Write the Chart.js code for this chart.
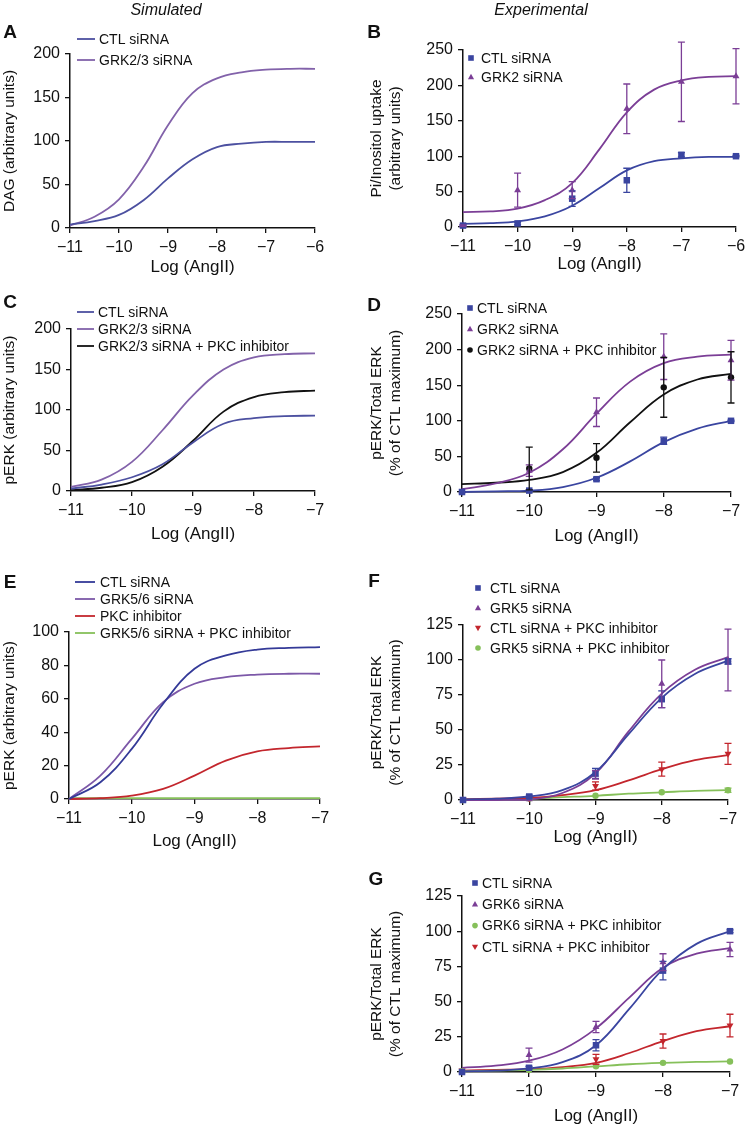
<!DOCTYPE html>
<html>
<head>
<meta charset="utf-8">
<script src="https://cdn.jsdelivr.net/npm/chart.js@4"></script>
<style>
  body { margin: 0; background: #fff; font-family: "Liberation Sans", Arial, sans-serif; }
  #fig { position: relative; width: 746px; height: 1128px; overflow: hidden; }
  canvas { position: absolute; }
  .lab { position: absolute; transform: translate(-50%, -50%); white-space: nowrap; color: #111; }
  .head { font-style: italic; font-size: 16px; }
  .letter { font-weight: bold; font-size: 19px; }
</style>
</head>
<body>
<div id="fig">
  <canvas id="cA"></canvas>
  <canvas id="cB"></canvas>
  <canvas id="cC"></canvas>
  <canvas id="cD"></canvas>
  <canvas id="cE"></canvas>
  <canvas id="cF"></canvas>
  <canvas id="cG"></canvas>
  <div class="lab head" style="left:166px;top:10px">Simulated</div>
  <div class="lab head" style="left:541px;top:10px">Experimental</div>
  <div class="lab letter" style="left:10px;top:32px">A</div>
  <div class="lab letter" style="left:374px;top:32px">B</div>
  <div class="lab letter" style="left:10px;top:302px">C</div>
  <div class="lab letter" style="left:374px;top:305px">D</div>
  <div class="lab letter" style="left:10px;top:582px">E</div>
  <div class="lab letter" style="left:374px;top:581px">F</div>
  <div class="lab letter" style="left:376px;top:879px">G</div>
</div>
<script>
// dose grid for the fitted / simulated curves (log AngII)
const fitDose6 = [-11, -10.5, -10, -9.5, -9, -8.5, -8, -7.5, -7, -6.5, -6];
const fitDose7 = [-11, -10.5, -10, -9.5, -9, -8.5, -8, -7.5, -7];
// measured doses
const dose6 = [-11, -10, -9, -8, -7, -6];
const dose7 = [-11, -10, -9, -8, -7];

// A - simulated DAG
const aCtl = [4, 8, 15, 32, 57, 79, 93, 97, 99, 99, 99];
const aGrk = [3, 13, 33, 70, 118, 155, 172, 179, 182, 183, 183];

// B - Pi/Inositol uptake
const bCtlMean = [2, 5, 40, 66, 102, 100];
const bCtlErr = [1, 2, 11, 17, 3, 1];
const bGrkMean = [2, 52, 52, 167, 205, 213];
const bGrkErr = [1, 24, 12, 35, 56, 39];
const bCtlFit = [4.5, 5.5, 8, 15, 30, 55, 80, 93, 97, 99, 99];
const bGrkFit = [21, 22, 26, 38, 62, 110, 162, 194, 207, 212, 213];

// C - simulated pERK
const cCtl = [3, 8, 17, 33, 60, 83, 90, 92.5, 93];
const cGrk = [5, 14, 36, 75, 118, 150, 165, 169, 170];
const cGrkPkc = [1, 4, 11, 30, 62, 98, 116, 122, 124];

// D - pERK/Total ERK, GRK2
const dCtlMean = [0, 2, 18, 72, 100];
const dCtlErr = [0.5, 1, 2, 5, 1];
const dGrkMean = [0, 30, 112, 190, 185];
const dGrkErr = [0.5, 8, 20, 32, 28];
const dPkcMean = [0, 33, 48, 147, 161];
const dPkcErr = [0, 30, 20, 42, 36];
const dCtlFit = [0, 1, 2, 7, 20, 43, 70, 89, 100];
const dGrkFit = [4, 12, 27, 60, 110, 155, 181, 190, 193];
const dPkcFit = [11, 13, 17, 28, 55, 98, 137, 158, 166];

// E - simulated pERK, GRK5/6
const eCtl = [0, 10, 30, 57, 78, 86, 89.5, 90.5, 91];
const eGrk = [0, 14, 36, 58, 69, 73, 74.5, 75, 75];
const ePkc = [0, 0.5, 2, 6, 14, 23, 28.5, 30.5, 31.5];
const eGrkPkc = [0.5, 0.5, 0.5, 0.5, 0.5, 0.5, 0.5, 0.5, 0.5];

// F - pERK/Total ERK, GRK5
const fCtlMean = [0, 2.5, 19, 72, 99];
const fCtlErr = [0.5, 1, 3.5, 6, 2];
const fGrkMean = [0, 0.5, 18, 83, 100];
const fGrkErr = [0.5, 0.5, 3, 17, 22];
const fCtlPkcMean = [0.5, 1, 10, 22, 33];
const fCtlPkcErr = [0.5, 0.5, 3, 5, 7.5];
const fGrkPkcMean = [0, 1, 3, 5.5, 7];
const fGrkPkcErr = [0.2, 0.3, 0.5, 0.8, 1.5];
const fCtlFit = [0.5, 1, 2.5, 7, 20, 47, 73, 90, 99.5];
const fGrkFit = [0, 0, 0.3, 5, 19, 49, 76, 93, 102];
const fCtlPkcFit = [0.5, 1, 1.5, 3.5, 7, 14, 22, 28.5, 32];
const fGrkPkcFit = [0.3, 0.6, 1, 2, 3, 4.5, 5.5, 6.5, 7];

// G - pERK/Total ERK, GRK6
const gCtlMean = [0, 3, 19, 72, 100];
const gCtlErr = [0.5, 1, 4, 6.5, 1];
const gGrkMean = [0, 12, 32, 78, 87];
const gGrkErr = [0.5, 5, 4, 6, 5];
const gGrkPkcMean = [0.5, 1.5, 4, 6.5, 7.5];
const gGrkPkcErr = [0.3, 0.3, 0.5, 0.5, 0.5];
const gCtlPkcMean = [1, 1.5, 9, 22, 33];
const gCtlPkcErr = [0.5, 0.5, 3.5, 5, 8];
const gCtlFit = [0.5, 1, 2.5, 7, 19, 45, 73, 91, 100];
const gGrkFit = [3, 4.5, 8, 16, 31, 53, 74, 84, 88];
const gGrkPkcFit = [0.5, 1, 1.5, 2.5, 4, 5.5, 6.5, 7.2, 7.5];
const gCtlPkcFit = [1, 1.5, 2, 3.5, 6.5, 13.5, 22, 29, 32.5];

const BLUE = "#3a45a0", PURPLE = "#7b3e96", RED = "#c3262d", GREEN = "#86c05a", BLACK = "#111";
const SIM_BLUE = "#4c50a0", SIM_PURPLE = "#8262aa";

Chart.defaults.font.family = '"Liberation Sans", Arial, sans-serif';
Chart.defaults.color = "#111";

const pts = (xs, ys) => xs.map((x, i) => ({ x: x, y: ys[i] }));

function curve(label, xs, ys, color) {
    return {
        label: label, data: pts(xs, ys),
        borderColor: color, backgroundColor: color, borderWidth: 1.8,
        pointRadius: 0, tension: 0.4, fill: false, clip: false
    };
}

function points(label, xs, ys, err, color, style, r, rot) {
    return {
        label: label, data: pts(xs, ys), errors: err, showLine: false,
        pointStyle: style, pointRadius: r, pointRotation: rot || 0,
        backgroundColor: color, borderColor: color, borderWidth: 0, clip: false
    };
}

// vertical error bars with caps
const errorBars = {
    id: "errorBars",
    afterDatasetsDraw(chart) {
        const ctx = chart.ctx, xs = chart.scales.x, ys = chart.scales.y;
        chart.data.datasets.forEach(ds => {
            if (!ds.errors) return;
            ctx.save();
            ctx.strokeStyle = ds.backgroundColor;
            ctx.lineWidth = 1.3;
            ds.data.forEach((p, i) => {
                const e = ds.errors[i];
                if (!e || e < 1) return;
                const px = xs.getPixelForValue(p.x);
                const t = ys.getPixelForValue(p.y + e);
                const b = ys.getPixelForValue(Math.max(p.y - e, 0));
                ctx.beginPath();
                ctx.moveTo(px, t); ctx.lineTo(px, b);
                ctx.moveTo(px - 3.5, t); ctx.lineTo(px + 3.5, t);
                ctx.moveTo(px - 3.5, b); ctx.lineTo(px + 3.5, b);
                ctx.stroke();
            });
            ctx.restore();
        });
    }
};

function marker(ctx, style, rot, x, y, r, color) {
    ctx.fillStyle = color;
    ctx.beginPath();
    if (style === "rect") {
        ctx.rect(x - r, y - r, 2 * r, 2 * r);
    } else if (style === "circle") {
        ctx.arc(x, y, r, 0, Math.PI * 2);
    } else {
        const d = rot ? -1 : 1;
        ctx.moveTo(x, y - d * r * 1.15);
        ctx.lineTo(x + r * 1.1, y + d * r * 0.8);
        ctx.lineTo(x - r * 1.1, y + d * r * 0.8);
        ctx.closePath();
    }
    ctx.fill();
}

// legend drawn inside the canvas at given spots
const panelLegend = {
    id: "panelLegend",
    afterDraw(chart, args, o) {
        if (!o || !o.items) return;
        const ctx = chart.ctx;
        ctx.save();
        ctx.font = '14px "Liberation Sans", Arial, sans-serif';
        ctx.textBaseline = "middle";
        o.items.forEach((di, k) => {
            const ds = chart.data.datasets[di];
            const y = o.y + k * o.dy;
            if (o.kind === "line") {
                ctx.strokeStyle = ds.borderColor;
                ctx.lineWidth = 1.8;
                ctx.beginPath();
                ctx.moveTo(o.x, y); ctx.lineTo(o.x + o.len, y);
                ctx.stroke();
            } else {
                marker(ctx, ds.pointStyle, ds.pointRotation, o.x, y, 2.8, ds.backgroundColor);
            }
            ctx.fillStyle = "#111";
            ctx.fillText(ds.label, o.tx, y + 1);
        });
        ctx.restore();
    }
};

function panel(id, g, o) {
    const cv = document.getElementById(id);
    cv.width = g.w; cv.height = g.h;
    cv.style.left = g.left + "px";
    cv.style.top = g.top + "px";
    return new Chart(cv, {
        type: "line",
        data: { datasets: o.datasets },
        plugins: [errorBars, panelLegend],
        options: {
            responsive: false,
            animation: false,
            events: [],
            layout: { padding: { top: g.pt - g.top, right: g.left + g.w - g.pr, bottom: 0, left: 0 } },
            plugins: { legend: { display: false }, tooltip: { enabled: false }, panelLegend: o.legend },
            scales: {
                x: {
                    type: "linear", min: -11, max: o.xMax,
                    ticks: {
                        stepSize: 1, padding: 5, maxRotation: 0, color: "#111", font: { size: 16 },
                        callback: v => (v < 0 ? "\u2212" + Math.abs(v) : "" + v)
                    },
                    grid: { drawOnChartArea: false, tickLength: 5, color: "#111", lineWidth: 1.3 },
                    border: { color: "#111", width: 1.5 },
                    title: {
                        display: true, text: "Log (AngII)", color: "#111",
                        font: { size: 17, lineHeight: 1.2 }, padding: { top: 0, bottom: g.xPad }
                    },
                    afterFit: s => { s.height = g.top + g.h - g.pb; s.paddingLeft = 0; s.paddingRight = 0; }
                },
                y: {
                    min: 0, max: o.yMax,
                    ticks: { stepSize: o.yStep, padding: 5, color: "#111", font: { size: 16 } },
                    grid: { drawOnChartArea: false, tickLength: 5, color: "#111", lineWidth: 1.3 },
                    border: { color: "#111", width: 1.5 },
                    title: {
                        display: true, text: o.yTitle, color: "#111",
                        font: { size: 15.5, lineHeight: 1.25 }, padding: { top: g.yPad, bottom: 0 }
                    },
                    afterFit: s => { s.width = g.pl - g.left; s.paddingTop = 0; s.paddingBottom = 0; }
                }
            }
        }
    });
}

panel("cA", { left: 0, top: 0, w: 340, h: 280, pl: 70, pt: 54, pr: 315, pb: 228, xPad: 2, yPad: 0 }, {
    xMax: -6, yMax: 200, yStep: 50, yTitle: "DAG (arbitrary units)",
    datasets: [
        curve("CTL siRNA", fitDose6, aCtl, SIM_BLUE),
        curve("GRK2/3 siRNA", fitDose6, aGrk, SIM_PURPLE)
    ],
    legend: { kind: "line", items: [0, 1], x: 77, len: 18, tx: 99, y: 39, dy: 21 }
});

panel("cB", { left: 364, top: 0, w: 382, h: 280, pl: 463, pt: 50, pr: 736, pb: 227, xPad: 5, yPad: 3 }, {
    xMax: -6, yMax: 250, yStep: 50, yTitle: ["Pi/Inositol uptake", "(arbitrary units)"],
    datasets: [
        points("CTL siRNA", dose6, bCtlMean, bCtlErr, BLUE, "rect", 4.6),
        points("GRK2 siRNA", dose6, bGrkMean, bGrkErr, PURPLE, "triangle", 4),
        curve("CTL siRNA", fitDose6, bCtlFit, BLUE),
        curve("GRK2 siRNA", fitDose6, bGrkFit, PURPLE)
    ],
    legend: { kind: "mark", items: [0, 1], x: 107, tx: 117, y: 58, dy: 19 }
});

panel("cC", { left: 0, top: 280, w: 340, h: 280, pl: 71, pt: 329, pr: 315, pb: 491, xPad: 15, yPad: 0 }, {
    xMax: -7, yMax: 200, yStep: 50, yTitle: "pERK (arbitrary units)",
    datasets: [
        curve("CTL siRNA", fitDose7, cCtl, SIM_BLUE),
        curve("GRK2/3 siRNA", fitDose7, cGrk, SIM_PURPLE),
        curve("GRK2/3 siRNA + PKC inhibitor", fitDose7, cGrkPkc, BLACK)
    ],
    legend: { kind: "line", items: [0, 1, 2], x: 77, len: 17, tx: 98, y: 32, dy: 17 }
});

panel("cD", { left: 364, top: 280, w: 382, h: 280, pl: 462, pt: 314, pr: 731, pb: 492, xPad: 13, yPad: 3 }, {
    xMax: -7, yMax: 250, yStep: 50, yTitle: ["pERK/Total ERK", "(% of CTL maximum)"],
    datasets: [
        points("CTL siRNA", dose7, dCtlMean, dCtlErr, BLUE, "rect", 4.6),
        points("GRK2 siRNA", dose7, dGrkMean, dGrkErr, PURPLE, "triangle", 4),
        points("GRK2 siRNA + PKC inhibitor", dose7, dPkcMean, dPkcErr, BLACK, "circle", 3.2),
        curve("CTL siRNA", fitDose7, dCtlFit, BLUE),
        curve("GRK2 siRNA", fitDose7, dGrkFit, PURPLE),
        curve("GRK2 siRNA + PKC inhibitor", fitDose7, dPkcFit, BLACK)
    ],
    legend: { kind: "mark", items: [0, 1, 2], x: 106, tx: 113, y: 28, dy: 21 }
});

panel("cE", { left: 0, top: 560, w: 340, h: 300, pl: 69, pt: 632, pr: 320, pb: 799, xPad: 8, yPad: 0 }, {
    xMax: -7, yMax: 100, yStep: 20, yTitle: "pERK (arbitrary units)",
    datasets: [
        curve("CTL siRNA", fitDose7, eCtl, "#343a98"),
        curve("GRK5/6 siRNA", fitDose7, eGrk, "#7c58a8"),
        curve("PKC inhibitor", fitDose7, ePkc, RED),
        curve("GRK5/6 siRNA + PKC inhibitor", fitDose7, eGrkPkc, GREEN)
    ],
    legend: { kind: "line", items: [0, 1, 2, 3], x: 75, len: 20, tx: 100, y: 22, dy: 17 }
});

panel("cF", { left: 364, top: 560, w: 382, h: 300, pl: 463, pt: 625, pr: 728, pb: 800, xPad: 12, yPad: 3 }, {
    xMax: -7, yMax: 125, yStep: 25, yTitle: ["pERK/Total ERK", "(% of CTL maximum)"],
    datasets: [
        points("CTL siRNA", dose7, fCtlMean, fCtlErr, BLUE, "rect", 4.6),
        points("GRK5 siRNA", dose7, fGrkMean, fGrkErr, PURPLE, "triangle", 4),
        points("CTL siRNA + PKC inhibitor", dose7, fCtlPkcMean, fCtlPkcErr, RED, "triangle", 4, 180),
        points("GRK5 siRNA + PKC inhibitor", dose7, fGrkPkcMean, fGrkPkcErr, GREEN, "circle", 3.2),
        curve("CTL siRNA", fitDose7, fCtlFit, BLUE),
        curve("GRK5 siRNA", fitDose7, fGrkFit, PURPLE),
        curve("CTL siRNA + PKC inhibitor", fitDose7, fCtlPkcFit, RED),
        curve("GRK5 siRNA + PKC inhibitor", fitDose7, fGrkPkcFit, GREEN)
    ],
    legend: { kind: "mark", items: [0, 1, 2, 3], x: 114, tx: 126, y: 28, dy: 20 }
});

panel("cG", { left: 364, top: 860, w: 382, h: 268, pl: 462, pt: 896, pr: 730, pb: 1072, xPad: 1, yPad: 3 }, {
    xMax: -7, yMax: 125, yStep: 25, yTitle: ["pERK/Total ERK", "(% of CTL maximum)"],
    datasets: [
        points("CTL siRNA", dose7, gCtlMean, gCtlErr, BLUE, "rect", 4.6),
        points("GRK6 siRNA", dose7, gGrkMean, gGrkErr, PURPLE, "triangle", 4),
        points("GRK6 siRNA + PKC inhibitor", dose7, gGrkPkcMean, gGrkPkcErr, GREEN, "circle", 3.2),
        points("CTL siRNA + PKC inhibitor", dose7, gCtlPkcMean, gCtlPkcErr, RED, "triangle", 4, 180),
        curve("CTL siRNA", fitDose7, gCtlFit, BLUE),
        curve("GRK6 siRNA", fitDose7, gGrkFit, PURPLE),
        curve("GRK6 siRNA + PKC inhibitor", fitDose7, gGrkPkcFit, GREEN),
        curve("CTL siRNA + PKC inhibitor", fitDose7, gCtlPkcFit, RED)
    ],
    legend: { kind: "mark", items: [0, 1, 2, 3], x: 111, tx: 118, y: 23, dy: 21.3 }
});
</script>
</body>
</html>
